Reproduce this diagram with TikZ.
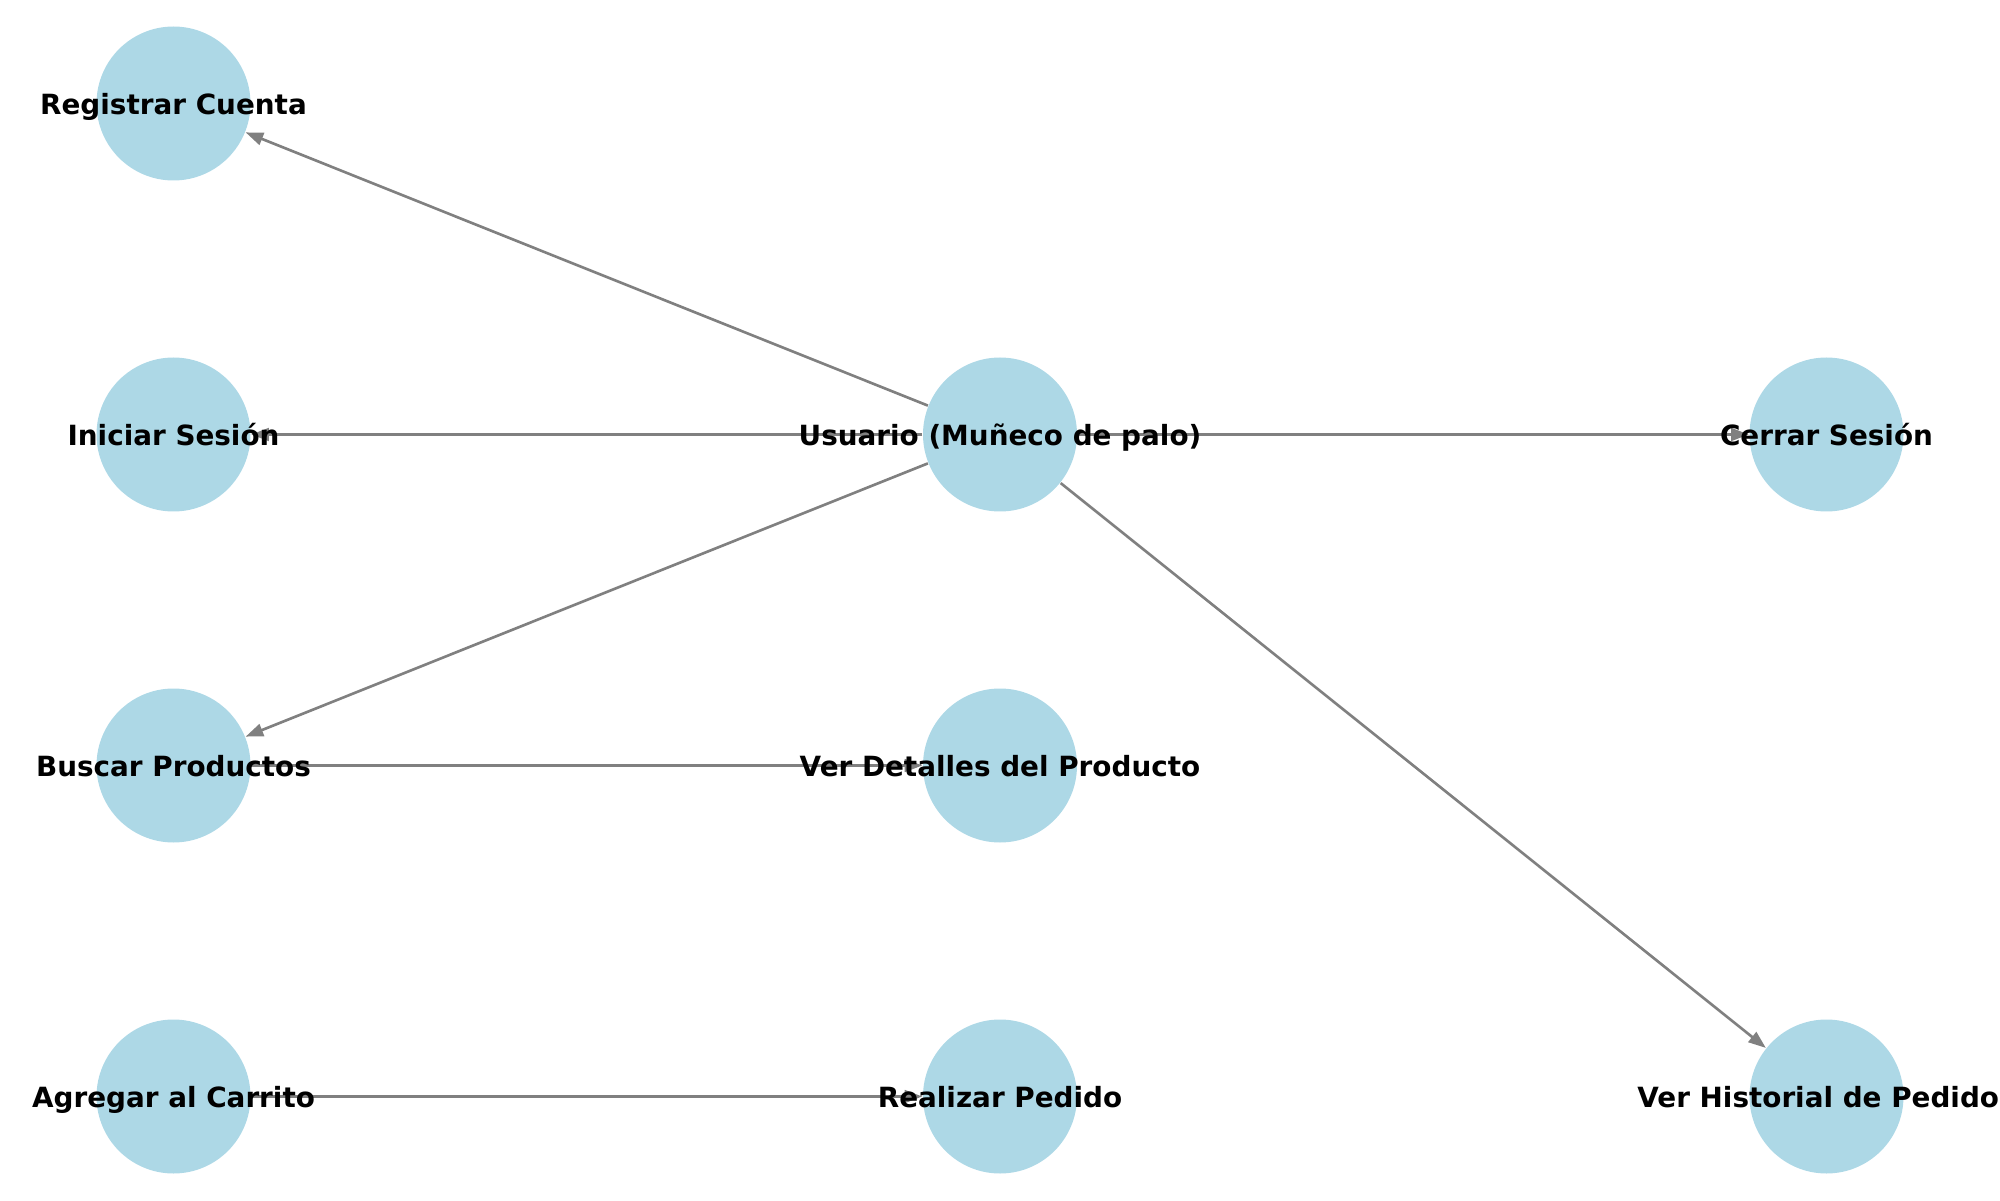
\documentclass[tikz,border=0pt]{standalone}
\usepackage{fontspec}
\setmainfont{DejaVu Sans}
\usepackage{xcolor}
\usepackage{tikz}
\usetikzlibrary{arrows.meta,positioning}
\definecolor{caseblue}{HTML}{ADD8E6}
\definecolor{edgegray}{HTML}{808080}
\tikzset{
  usecase/.style={
    circle, fill=caseblue, draw=none, minimum size=1.54cm, inner sep=0pt
  },
  caselabel/.style={
    font=\fontsize{7.92pt}{9pt}\selectfont\bfseries, text=black, inner sep=0pt,
    text height=0.9em, text depth=0.3em
  },
  arrow/.style={-{Triangle[length=5pt,width=3.6pt]}, line width=0.75pt, edgegray},
}

\begin{document}
\begin{tikzpicture}[on grid]
  \useasboundingbox (0,0) rectangle (20,12);
  \clip (0,0) rectangle (20,12);

  % Actor in the middle
  \node[usecase] at (10,7.655) (user) {};

  % Left column
  \node[usecase, left=8.265cm of user] (login) {};
  \node[usecase, above=3.31cm of login] (register) {};
  \node[usecase, below=3.31cm of login] (search) {};
  \node[usecase, below=3.31cm of search] (cart) {};

  % Middle column
  \node[usecase, below=3.31cm of user] (details) {};
  \node[usecase, below=3.31cm of details] (order) {};

  % Right column
  \node[usecase, right=8.265cm of user] (logout) {};
  \node[usecase, below=6.62cm of logout] (history) {};

  % Arrows from the actor
  \draw[arrow] (user) -- (register);
  \draw[arrow] (user) -- (login);
  \draw[arrow] (user) -- (search);
  \draw[arrow] (user) -- (logout);
  \draw[arrow] (user) -- (history);

  % Arrows between use cases
  \draw[arrow] (search) -- (details);
  \draw[arrow] (cart) -- (order);

  % Labels on top
  \node[caselabel] (user-t) at (user) {Usuario (Muñeco de palo)};
  \node[caselabel] (register-t) at (register) {Registrar Cuenta};
  \node[caselabel] (login-t) at (login) {Iniciar Sesión};
  \node[caselabel] (search-t) at (search) {Buscar Productos};
  \node[caselabel] (cart-t) at (cart) {Agregar al Carrito};
  \node[caselabel] (details-t) at (details) {Ver Detalles del Producto};
  \node[caselabel] (order-t) at (order) {Realizar Pedido};
  \node[caselabel] (logout-t) at (logout) {Cerrar Sesión};
  \node[caselabel] (history-t) at (history) {Ver Historial de Pedidos};
\end{tikzpicture}
\end{document}
